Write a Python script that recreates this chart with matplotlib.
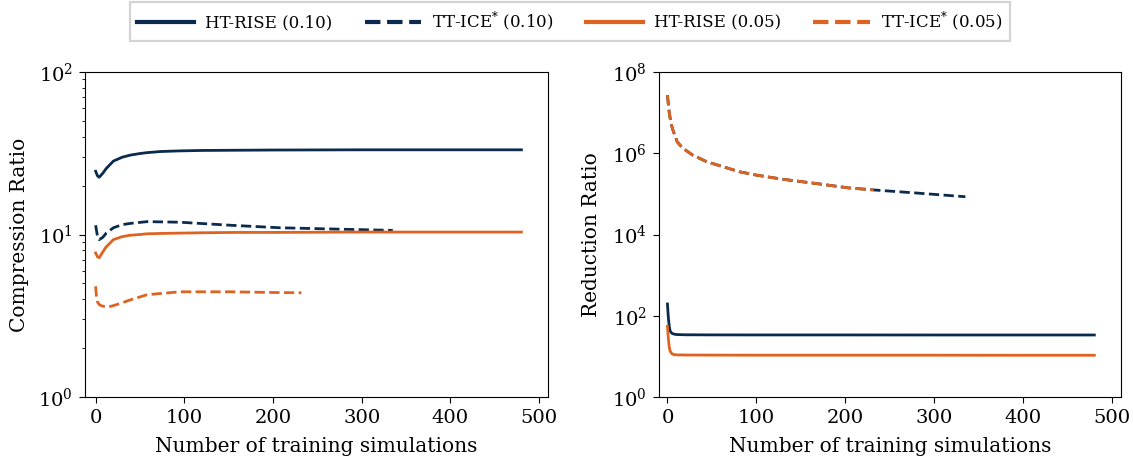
import matplotlib
matplotlib.use("Agg")
import matplotlib.pyplot as plt
from matplotlib.ticker import NullLocator, FixedLocator

plt.rcParams["font.family"] = ["DejaVu Serif"]
plt.rcParams["mathtext.fontset"] = "dejavuserif"

NAVY = "#0a2b4e"
ORANGE = "#df6320"

# Compression ratio vs. number of training simulations
ht_x = [0, 2, 4, 8, 12, 20, 30, 39, 50, 58, 73, 95, 120, 160, 200, 300, 400, 480]
ht_cr_10 = [24.5, 23.0, 22.5, 23.8, 25.5, 28.3, 29.9, 30.8, 31.5, 31.9, 32.4, 32.7, 32.9, 33.0, 33.1, 33.2, 33.2, 33.2]
ht_cr_05 = [7.7, 7.3, 7.2, 7.8, 8.4, 9.3, 9.7, 9.9, 10.0, 10.1, 10.15, 10.2, 10.25, 10.3, 10.3, 10.35, 10.35, 10.35]

tt10_x = [0, 2, 4, 8, 12, 20, 30, 39, 58, 95, 152, 208, 270, 335]
tt_cr_10 = [11.4, 9.8, 9.3, 9.6, 10.2, 11.0, 11.5, 11.7, 12.0, 11.9, 11.4, 11.0, 10.8, 10.6]

tt05_x = [0, 1, 2, 4, 8, 15, 20, 30, 39, 58, 95, 152, 208, 232]
tt_cr_05 = [4.8, 4.1, 3.86, 3.7, 3.62, 3.59, 3.65, 3.8, 3.96, 4.26, 4.44, 4.44, 4.39, 4.38]

# Reduction ratio vs. number of training simulations
ht_rr_x = [0, 1, 2, 3, 5, 7, 10, 20, 50, 100, 200, 300, 400, 480]
ht_rr_10 = [195, 90, 55, 42, 37, 35.5, 34.5, 34.0, 33.8, 33.7, 33.7, 33.6, 33.6, 33.6]
ht_rr_05 = [55, 28, 17, 13.5, 11.6, 11.1, 10.9, 10.8, 10.75, 10.7, 10.7, 10.7, 10.65, 10.65]

tt_rr_x10 = [0, 1, 2, 4, 6, 11, 17, 28, 44, 62, 81, 100, 129, 167, 204, 232, 280, 335]
tt_rr_10 = [2.7e7, 1.6e7, 1.0e7, 5.5e6, 3.8e6, 1.9e6, 1.35e6, 9.1e5, 6.2e5, 4.7e5,
            3.5e5, 2.9e5, 2.3e5, 1.8e5, 1.4e5, 1.25e5, 1.05e5, 8.5e4]
tt_rr_x05 = [0, 1, 2, 4, 6, 11, 17, 28, 44, 62, 81, 100, 129, 167, 204, 232]
tt_rr_05 = [2.7e7, 1.6e7, 1.0e7, 5.5e6, 3.8e6, 1.9e6, 1.35e6, 9.1e5, 6.2e5, 4.7e5,
            3.5e5, 2.9e5, 2.3e5, 1.8e5, 1.4e5, 1.25e5]

labels = ["HT-RISE (0.10)", r"TT-ICE$^{*}$ (0.10)", "HT-RISE (0.05)", r"TT-ICE$^{*}$ (0.05)"]

fig = plt.figure(figsize=(11.33, 4.57), dpi=100)
ax1 = fig.add_axes([85 / 1133, 60 / 457, 463 / 1133, 325 / 457])
ax2 = fig.add_axes([659 / 1133, 60 / 457, 462 / 1133, 325 / 457])

lw = 2.0
h1, = ax1.plot(ht_x, ht_cr_10, color=NAVY, lw=lw)
h2, = ax1.plot(tt10_x, tt_cr_10, color=NAVY, lw=lw, ls="--")
h3, = ax1.plot(ht_x, ht_cr_05, color=ORANGE, lw=lw)
h4, = ax1.plot(tt05_x, tt_cr_05, color=ORANGE, lw=lw, ls="--")

ax2.plot(ht_rr_x, ht_rr_10, color=NAVY, lw=lw)
ax2.plot(tt_rr_x10, tt_rr_10, color=NAVY, lw=lw, ls="--")
ax2.plot(ht_rr_x, ht_rr_05, color=ORANGE, lw=lw)
ax2.plot(tt_rr_x05, tt_rr_05, color=ORANGE, lw=lw, ls="--")

ax1.set_yscale("log")
ax1.set_ylim(1, 100)
ax1.set_ylabel("Compression Ratio", fontsize=14.5, labelpad=7)
ax1.set_xlim(-12, 510)

ax2.set_yscale("log")
ax2.set_ylim(1, 1e8)
ax2.yaxis.set_major_locator(FixedLocator([1, 1e2, 1e4, 1e6, 1e8]))
ax2.yaxis.set_minor_locator(NullLocator())
ax2.set_ylabel("Reduction Ratio", fontsize=14.5, labelpad=8)
ax2.set_xlim(-9.5, 510)

for ax in (ax1, ax2):
    ax.set_xticks([0, 100, 200, 300, 400, 500])
    ax.set_xlabel("Number of training simulations", fontsize=14.5, labelpad=7)
    ax.tick_params(labelsize=14, length=4.5, pad=4)

leg = fig.legend([h1, h2, h3, h4], labels, loc="upper center", bbox_to_anchor=(0.503, 0.995),
                 ncol=4, fontsize=12, frameon=True, fancybox=False, edgecolor="#c8c8c8",
                 handlelength=3.4, handletextpad=0.65, columnspacing=1.95,
                 borderpad=0.45, borderaxespad=0.0)
leg.get_frame().set_linewidth(1.6)
for line in leg.get_lines():
    line.set_linewidth(3.0)

fig.savefig("out.png", dpi=100)
